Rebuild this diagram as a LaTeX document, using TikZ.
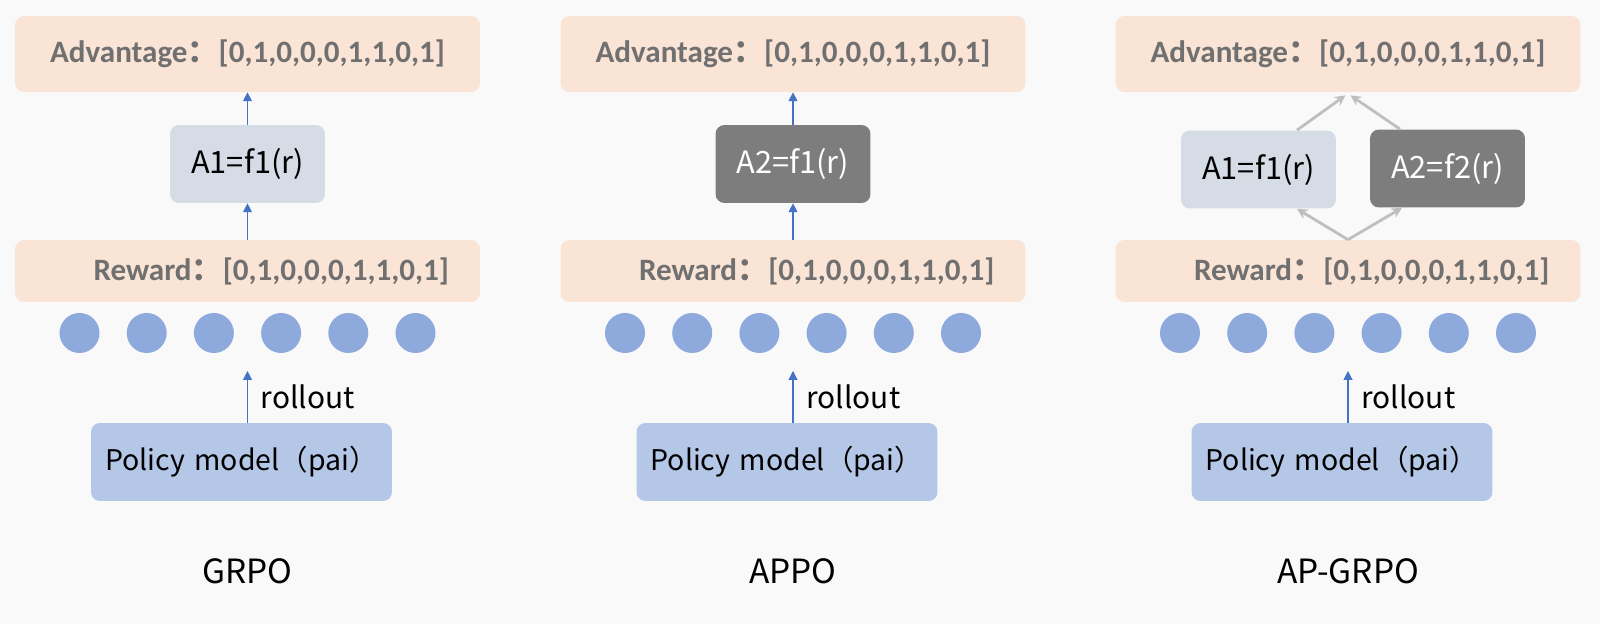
\documentclass[tikz,border=0pt]{standalone}
\usepackage{fontspec}
\setmainfont{Noto Sans CJK SC}
\newfontfamily\calfont{Carlito}
\newfontfamily\cjkfont{Noto Sans CJK SC}
\usepackage{tikz}
\usetikzlibrary{arrows.meta}
\definecolor{sfondo}{HTML}{F9F9F9}
\definecolor{pesca}{HTML}{FAE4D6}
\definecolor{grigiotesto}{HTML}{707070}
\definecolor{grigioblu}{HTML}{D6DCE5}
\definecolor{grigioscuro}{HTML}{7D7D7D}
\definecolor{azzurro}{HTML}{B4C7E7}
\definecolor{pallino}{HTML}{8EA9DB}
\definecolor{blu}{HTML}{4472C4}
\definecolor{grigiochiaro}{HTML}{BFBFBF}

\tikzset{
  fascia/.style={rounded corners=0.18cm, fill=pesca, minimum width=9.3cm, inner sep=0pt,
    font=\calfont\bfseries\fontsize{17.7}{21}\selectfont, text=grigiotesto},
  vantaggio/.style={fascia, minimum height=1.52cm},
  ricompensa/.style={fascia, minimum height=1.24cm, text width=8.06cm, inner xsep=0.62cm, align=right},
  modello/.style={rounded corners=0.18cm, fill=azzurro, minimum height=1.56cm, text width=5.46cm,
    inner xsep=0.28cm, align=left, font=\fontsize{16.2}{19}\selectfont},
  funzione/.style={rounded corners=0.18cm, minimum width=3.1cm, minimum height=1.56cm,
    inner sep=0pt, font=\fontsize{17.5}{20}\selectfont},
  chiara/.style={funzione, fill=grigioblu},
  scura/.style={funzione, fill=grigioscuro, text=white},
  punto/.style={circle, fill=pallino, minimum size=0.8cm, inner sep=0pt},
  freccia/.style={draw=blu, line width=0.6pt, -{Triangle[length=5pt,width=5pt]}},
  frecciagrigia/.style={draw=grigiochiaro, line width=1.6pt, -{Stealth[length=6pt,width=6pt]}},
  scritta/.style={font=\fontsize{17}{20}\selectfont},
  titolo/.style={font=\fontsize{19}{22}\selectfont}
}
\newcommand{\duepunti}{{\cjkfont\bfseries ：}}

\begin{document}
\begin{tikzpicture}[x=0.02cm, y=-0.02cm]
        % Sfondo
        \fill[sfondo] (0,0) rectangle (1600,624);

        % Parti comuni dei tre schemi
        \foreach \c/\p/\nome in {247.5/g/GRPO, 793/a/APPO, 1348/ap/AP-GRPO} {
            \node[vantaggio] (adv-\p) at (\c,54) {Advantage\duepunti[0,1,0,0,0,1,1,0,1]};
            \node[ricompensa] (rew-\p) at (\c,271) {Reward\duepunti[0,1,0,0,0,1,1,0,1]};
            % Campioni generati
            \foreach \k in {0,...,5}
                \node[punto] (dot-\p-\k) at (\c-168+67.2*\k,333) {};
            \node[modello] (pol-\p) at (\c-6,462) {Policy model（pai）};
            \coordinate (roll-\p) at (\c,371);
            \draw[freccia] (pol-\p.north -| roll-\p) -- (roll-\p) node[scritta, midway, right=4pt] {rollout};
            \node[titolo] (nome-\p) at (\c,571) {\nome};
        }

        % GRPO
        \node[chiara] (f-g) at (247.5,164) {A1=f1(r)};
        \draw[freccia] (rew-g) -- (f-g);
        \draw[freccia] (f-g) -- (adv-g);

        % APPO
        \node[scura] (f-a) at (793,164) {A2=f1(r)};
        \draw[freccia] (rew-a) -- (f-a);
        \draw[freccia] (f-a) -- (adv-a);

        % AP-GRPO
        \node[chiara] (f1-ap) at (1258.5,169.5) {A1=f1(r)};
        \node[scura] (f2-ap) at (1447.5,168.5) {A2=f2(r)};
        \draw[frecciagrigia] (rew-ap.north) -- ([xshift=0.77cm]f1-ap.south);
        \draw[frecciagrigia] (rew-ap.north) -- ([xshift=-0.91cm]f2-ap.south);
        \draw[frecciagrigia] ([xshift=0.77cm]f1-ap.north) -- ([xshift=-0.05cm,yshift=-0.06cm]adv-ap.south);
        \draw[frecciagrigia] ([xshift=-0.95cm]f2-ap.north) -- ([xshift=0.05cm,yshift=-0.06cm]adv-ap.south);
\end{tikzpicture}
\end{document}
